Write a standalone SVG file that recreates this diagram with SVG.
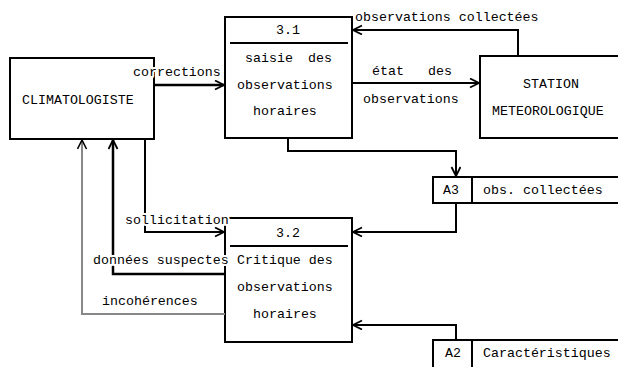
<svg xmlns="http://www.w3.org/2000/svg" width="618" height="367" viewBox="0 0 618 367">
<defs>
<style>
.t{font-family:"Liberation Mono","DejaVu Sans Mono",monospace;font-size:13.3px;fill:#000}
.lb{paint-order:stroke;stroke:#fff;stroke-width:4px;stroke-linejoin:round}
.box{fill:#fff;stroke:#000;stroke-width:2}
.ln{fill:none;stroke:#000;stroke-width:2}
.c{fill:none;stroke:#000;stroke-width:2.5}
.g{fill:none;stroke:#888;stroke-width:2}
</style>
<marker id="ah" markerUnits="userSpaceOnUse" markerWidth="12" markerHeight="12" refX="10" refY="5" orient="auto">
<path d="M1,0.5 L10,5 L1,9.5" fill="none" stroke="#000" stroke-width="1.8"/>
</marker>
<marker id="ahg" markerUnits="userSpaceOnUse" markerWidth="12" markerHeight="12" refX="10" refY="5" orient="auto">
<path d="M1,0.5 L10,5 L1,9.5" fill="none" stroke="#000" stroke-width="1.6"/>
</marker>
</defs>
<rect width="618" height="367" fill="#fff"/>
<g id="climatologiste">
<rect class="box" x="10" y="58" width="144" height="81"/>
<text class="t" x="22" y="104">CLIMATOLOGISTE</text>
</g>
<g id="p31">
<rect class="box" x="225" y="17" width="127" height="121"/>
<line class="ln" x1="230" y1="43" x2="348" y2="43"/>
<text class="t" x="288" y="34" text-anchor="middle">3.1</text>
<text class="t" x="245" y="62">saisie</text>
<text class="t" x="308" y="62">des</text>
<text class="t" x="237" y="89">observations</text>
<text class="t" x="253" y="115">horaires</text>
</g>
<g id="station">
<rect class="box" x="480" y="56" width="145" height="82"/>
<text class="t" x="523" y="88">STATION</text>
<text class="t" x="492" y="115">METEOROLOGIQUE</text>
</g>
<g id="p32">
<rect class="box" x="225" y="218" width="127" height="124"/>
<line class="ln" x1="230" y1="246" x2="348" y2="246"/>
<text class="t" x="288" y="237" text-anchor="middle">3.2</text>
<text class="t" x="237" y="264">Critique des</text>
<text class="t" x="237" y="291">observations</text>
<text class="t" x="253" y="318">horaires</text>
</g>
<g id="a3">
<rect class="box" x="433" y="177" width="195" height="26"/>
<line class="ln" x1="472" y1="177" x2="472" y2="203"/>
<text class="t" x="443" y="194">A3</text>
<text class="t" x="483" y="194">obs. collectées</text>
</g>
<g id="a2">
<rect class="box" x="433" y="340" width="195" height="30"/>
<line class="ln" x1="472" y1="340" x2="472" y2="367"/>
<text class="t" x="445" y="357">A2</text>
<text class="t" x="483" y="357">Caractéristiques</text>
</g>
<g id="connectors">
<path class="c" d="M154,85 H224" marker-end="url(#ah)"/>
<path class="ln" d="M352,83 H479" marker-end="url(#ah)"/>
<path class="ln" d="M518,56 V30 H353" marker-end="url(#ah)"/>
<path class="ln" d="M288,139 V151 H456 V176" marker-end="url(#ah)"/>
<path class="ln" d="M456,203 V232 H353" marker-end="url(#ah)"/>
<path class="ln" d="M456,340 V325 H353" marker-end="url(#ah)"/>
<path class="ln" d="M145,139 V232 H224" marker-end="url(#ah)"/>
<path class="c" d="M225,274 H113 V140" marker-end="url(#ah)"/>
<path class="g" d="M225,314 H82 V140" marker-end="url(#ahg)"/>
<text class="t lb" x="133" y="76">corrections</text>
<text class="t lb" x="355" y="21">observations collectées</text>
<text class="t lb" x="372" y="75">état</text>
<text class="t lb" x="428" y="75">des</text>
<text class="t lb" x="363" y="103">observations</text>
<text class="t lb" x="125" y="224">sollicitation</text>
<text class="t lb" x="93" y="264">données suspectes</text>
<text class="t lb" x="102" y="305">incohérences</text>
</g>
</svg>
